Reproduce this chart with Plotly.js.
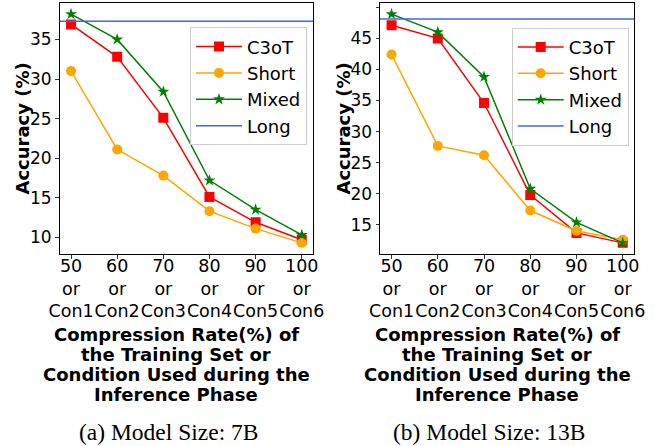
<!DOCTYPE html>
<html>
<head>
<meta charset="utf-8">
<script src="https://cdn.plot.ly/plotly-3.0.1.min.js"></script>
<style>html,body{margin:0;padding:0;background:#fff;}#chart{width:662px;height:446px;}</style>
</head>
<body>
<div id="chart"></div>
<script>
// ---- data ----
const rates = [50, 60, 70, 80, 90, 100];
const conditions = ['Con1', 'Con2', 'Con3', 'Con4', 'Con5', 'Con6'];
const seriesNames = ['C3oT', 'Short', 'Mixed', 'Long'];

const c3ot7B  = [36.9, 32.8, 25.1, 15.1, 11.9, 9.7];
const short7B = [31.0, 21.1, 17.8, 13.3, 11.1, 9.3];
const mixed7B = [38.2, 35.0, 28.4, 17.2, 13.5, 10.3];
const long7B  = 37.3;

const c3ot13B  = [47.1, 45.0, 34.6, 19.8, 13.7, 12.1];
const short13B = [42.4, 27.7, 26.2, 17.3, 14.0, 12.6];
const mixed13B = [48.9, 46.0, 38.8, 20.8, 15.4, 12.1];
const long13B  = 48.1;

const xTitleLines = ['Compression Rate(%) of', 'the Training Set or', 'Condition Used during the', 'Inference Phase'];
const yTitle = 'Accuracy (%)';
const captions = ['(a) Model Size: 7B', '(b) Model Size: 13B'];

// ---- build ----
const W = 662, H = 446;
const px = v => v / W;
const py = v => 1 - v / H;
const tickText = rates.map((r, i) => r + '<br>or<br>' + conditions[i]);

const colors = {C3oT: '#ff0000', Short: '#ffa500', Mixed: '#008000', Long: '#4169e1'};
const symbols = {C3oT: 'square', Short: 'circle', Mixed: 'star'};
const msize = {C3oT: 10, Short: 10, Mixed: 9};

function panelTraces(xa, ya, leg, vals, longVal) {
  const out = [];
  ['C3oT', 'Short', 'Mixed'].forEach((n, k) => {
    out.push({
      type: 'scatter', mode: 'lines+markers', name: n,
      x: rates, y: vals[k], xaxis: xa, yaxis: ya, legend: leg,
      line: {color: colors[n], width: 1.5},
      marker: {color: colors[n], symbol: symbols[n], size: msize[n], line: {width: 0}}
    });
  });
  out.push({
    type: 'scatter', mode: 'lines', name: 'Long',
    x: [null], y: [null], xaxis: xa, yaxis: ya, legend: leg,
    line: {color: colors.Long, width: 1.5}
  });
  return out;
}

function autoRange(arrs, extra) {
  const all = [].concat(...arrs, [extra]);
  const mn = Math.min(...all), mx = Math.max(...all);
  const m = (mx - mn) * 0.05;
  return [mn - m, mx + m];
}

const data = [].concat(
  panelTraces('x', 'y', 'legend', [c3ot7B, short7B, mixed7B], long7B),
  panelTraces('x2', 'y2', 'legend2', [c3ot13B, short13B, mixed13B], long13B)
);

const tickFont = {family: 'DejaVu Sans', size: 17.5, color: '#000'};
const xSpan = (rates[rates.length - 1] - rates[0]) * 0.05;

function xAxis(domain, anchor) {
  return {
    domain: domain, anchor: anchor,
    range: [rates[0] - xSpan, rates[rates.length - 1] + xSpan],
    tickmode: 'array', tickvals: rates, ticktext: tickText, tickangle: 0,
    ticks: 'outside', ticklen: 3.5, tickwidth: 0.8, tickcolor: '#000',
    ticklabelstandoff: -8,
    showline: true, mirror: true, linecolor: '#000', linewidth: 1,
    showgrid: false, zeroline: false, tickfont: tickFont
  };
}
function yAxis(domain, anchor, rng) {
  return {
    domain: domain, anchor: anchor, range: rng,
    tick0: 0, dtick: 5,
    ticks: 'outside', ticklen: 3.5, tickwidth: 0.8, tickcolor: '#000',
    showline: true, mirror: true, linecolor: '#000', linewidth: 1,
    showgrid: false, zeroline: false, tickfont: {family: 'DejaVu Sans', size: 17, color: '#000'}
  };
}

const yDom = [py(254.3), py(2.7)];
const legendStyle = {
  bgcolor: 'rgba(255,255,255,0.8)', bordercolor: '#cccccc', borderwidth: 1,
  font: {family: 'DejaVu Sans', size: 18, color: '#000'},
  xanchor: 'left', yanchor: 'top', itemwidth: 46
};

const annotations = [];
[176, 497].forEach(cx => {
  xTitleLines.forEach((t, i) => {
    annotations.push({
      xref: 'paper', yref: 'paper', x: px(cx), y: py(334 + 20 * i),
      xanchor: 'center', yanchor: 'middle', showarrow: false, text: t,
      font: {family: 'DejaVu Sans', size: 18, color: '#000', weight: 'bold'}
    });
  });
});
[22, 343].forEach(cx => {
  annotations.push({
    xref: 'paper', yref: 'paper', x: px(cx), y: py(128.5),
    xanchor: 'center', yanchor: 'middle', showarrow: false, text: yTitle, textangle: -90,
    font: {family: 'DejaVu Sans', size: 18, color: '#000', weight: 'bold'}
  });
});
[[168.5, captions[0]], [489, captions[1]]].forEach(([cx, t]) => {
  annotations.push({
    xref: 'paper', yref: 'paper', x: px(cx), y: py(432),
    xanchor: 'center', yanchor: 'middle', showarrow: false, text: t,
    font: {family: 'Liberation Serif', size: 23.5, color: '#000'}
  });
});

const layout = {
  width: W, height: H,
  margin: {l: 0, r: 0, t: 0, b: 0},
  paper_bgcolor: '#fff', plot_bgcolor: '#fff',
  showlegend: true,
  xaxis: xAxis([px(59.5), px(313.3)], 'y'),
  yaxis: yAxis(yDom, 'x', autoRange([c3ot7B, short7B, mixed7B], long7B)),
  xaxis2: xAxis([px(380), px(634.3)], 'y2'),
  yaxis2: yAxis(yDom, 'x2', autoRange([c3ot13B, short13B, mixed13B], long13B)),
  legend: Object.assign({x: px(190), y: py(27.3)}, legendStyle),
  legend2: Object.assign({x: px(511.7), y: py(27.7)}, legendStyle),
  shapes: [
    {type: 'line', xref: 'x domain', yref: 'y', x0: 0, x1: 1, y0: long7B, y1: long7B,
     line: {color: colors.Long, width: 1.5}},
    {type: 'line', xref: 'x2 domain', yref: 'y2', x0: 0, x1: 1, y0: long13B, y1: long13B,
     line: {color: colors.Long, width: 1.5}}
  ],
  annotations: annotations
};

Plotly.newPlot('chart', data, layout, {displayModeBar: false, staticPlot: true});
</script>
</body>
</html>
